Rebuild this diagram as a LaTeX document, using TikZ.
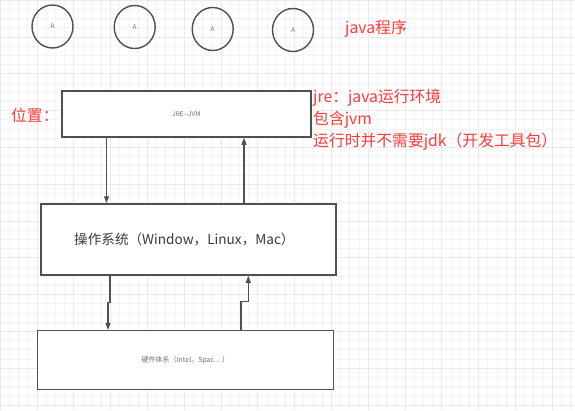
\documentclass[tikz,border=0pt]{standalone}
\usepackage{fontspec}
\newfontfamily\cjk{Noto Sans CJK SC}
\usetikzlibrary{shapes.geometric,arrows.meta}
\definecolor{redtxt}{HTML}{FF3B3B}
\definecolor{edge}{HTML}{505050}
\definecolor{gridminor}{HTML}{F4F4F4}
\definecolor{gridmajor}{HTML}{EBEBEB}
\definecolor{ostxt}{HTML}{3A3A3A}
\definecolor{smalltxt}{HTML}{707070}
\tikzset{
  prog/.style={ellipse,draw=edge,line width=1.4pt,minimum width=41pt,minimum height=43pt,inner sep=0pt,
    font=\cjk\fontsize{6.5}{7}\selectfont,text=smalltxt},
  layerbox/.style={rectangle,draw=edge,line width=1.5pt,fill=white,inner sep=0pt},
  redlabel/.style={anchor=west,inner sep=0pt,text=redtxt,font=\cjk\fontsize{15.8}{18}\selectfont},
  arr/.style={draw=edge,line width=1.2pt,-{Triangle[length=7pt,width=5pt]}}
}
\begin{document}
\begin{tikzpicture}[x=1pt,y=-1pt]
\useasboundingbox (0,0) rectangle (575,410);
\fill[white] (0,0) rectangle (575,410);
\draw[gridminor,line width=0.5pt,step=9.2pt] (0,0) grid (575,410);
\draw[gridmajor,line width=0.5pt,step=36.8pt] (0,0) grid (575,410);

% programs
\node[prog] (p1) at (52.5,26.5) {A};
\node[prog] (p2) at (134.7,27) {A};
\node[prog] (p3) at (212.7,29) {A};
\node[prog] (p4) at (293,30) {A};
\node[redlabel] (tprog) at (345,29) {java程序};

% layers
\node[layerbox,minimum width=249pt,minimum height=46pt,text=smalltxt,font=\cjk\fontsize{6.5}{8}\selectfont] (jre) at (186.5,114) {JRE--JVM};
\node[layerbox,minimum width=295pt,minimum height=71pt,text=ostxt,font=\cjk\fontsize{13.6}{16}\selectfont] (os) at (188.4,239.5) {\hspace*{-8pt}操作系统（Window，Linux，Mac）};
\node[layerbox,minimum width=296pt,minimum height=58.6pt,text=smalltxt,font=\cjk\fontsize{7}{8}\selectfont] (hw) at (185.3,360) {硬件体系（Intel，Spac....）};

% labels
\node[redlabel] (pos) at (11,115) {位置：};
\node[redlabel] (l1) at (313,98) {jre：java运行环境};
\node[redlabel] (l2) at (313,120) {包含jvm};
\node[redlabel] (l3) at (313,142) {运行时并不需要jdk（开发工具包）};

% connectors
\draw[arr] ([xshift=-80pt]jre.south) -- ([xshift=-80pt]jre.south |- os.north);
\draw[arr] ([xshift=57.5pt]jre.south |- os.north) -- ([xshift=57.5pt]jre.south);
\draw[arr] ([xshift=-78.4pt]os.south) -- ++(0,27) -- ++(-2,0) -- ([xshift=-80.4pt]os.south |- hw.north);
\draw[arr] ([xshift=55.7pt]hw.north) -- ++(0,-28.7) -- ++(7.3,0) -- ([xshift=63pt]hw.north |- os.south);
\end{tikzpicture}
\end{document}
